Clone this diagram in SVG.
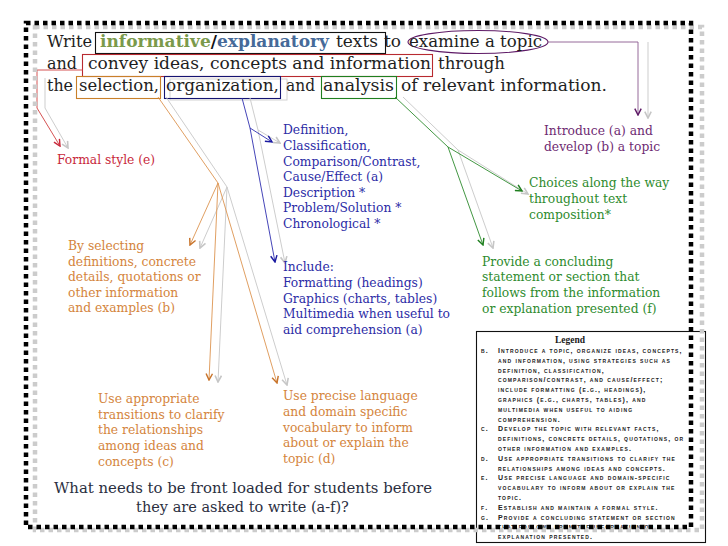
<svg xmlns="http://www.w3.org/2000/svg" width="728" height="546" viewBox="0 0 728 546">
<style>
  .t { font-family: "DejaVu Serif", "Liberation Serif", serif; }
  .title { font-size: 17px; fill: #1e1e1e; }
  .lbl { font-size: 12.3px; }
  .blue { fill: #2c2ca6; }
  .purple { fill: #6e2a72; }
  .green { fill: #2e8b2e; }
  .orange { fill: #d4843c; }
  .red { fill: #c8283a; }
  .q { font-size: 14.5px; fill: #2b2f3f; }
  .leg { font-family: "Liberation Sans", Arial, sans-serif; font-size: 7px; font-weight: bold; font-variant: small-caps; letter-spacing: 1.15px; fill: #222222; }
  .legh { font-family: "Liberation Serif", serif; font-size: 9.5px; font-weight: bold; fill: #1a1a1a; }
  .ln { fill: none; stroke-width: 0.9; }
  .gr { stroke: #cdcdcd; stroke-width: 1; }
</style>
<defs>
  <marker id="a-red" viewBox="0 0 10 10" refX="9" refY="5" markerWidth="8" markerHeight="8" markerUnits="userSpaceOnUse" orient="auto"><path d="M1,1 L9,5 L1,9" fill="none" stroke="#c8283a" stroke-width="1.8"/></marker>
  <marker id="a-or" viewBox="0 0 10 10" refX="9" refY="5" markerWidth="8" markerHeight="8" markerUnits="userSpaceOnUse" orient="auto"><path d="M1,1 L9,5 L1,9" fill="none" stroke="#c8732a" stroke-width="1.8"/></marker>
  <marker id="a-bl" viewBox="0 0 10 10" refX="9" refY="5" markerWidth="8" markerHeight="8" markerUnits="userSpaceOnUse" orient="auto"><path d="M1,1 L9,5 L1,9" fill="none" stroke="#1a1aa0" stroke-width="1.8"/></marker>
  <marker id="a-gn" viewBox="0 0 10 10" refX="9" refY="5" markerWidth="8" markerHeight="8" markerUnits="userSpaceOnUse" orient="auto"><path d="M1,1 L9,5 L1,9" fill="none" stroke="#1f7f1f" stroke-width="1.8"/></marker>
  <marker id="a-pu" viewBox="0 0 10 10" refX="9" refY="5" markerWidth="8" markerHeight="8" markerUnits="userSpaceOnUse" orient="auto"><path d="M1,1 L9,5 L1,9" fill="none" stroke="#5e1a66" stroke-width="1.8"/></marker>
  <marker id="a-gr" viewBox="0 0 10 10" refX="9" refY="5" markerWidth="8" markerHeight="8" markerUnits="userSpaceOnUse" orient="auto"><path d="M1,1 L9,5 L1,9" fill="none" stroke="#c6c6c6" stroke-width="2"/></marker>
</defs>

<rect width="728" height="546" fill="#ffffff"/>

<!-- title -->
<g id="title">
  <rect x="170" y="79" width="117" height="21" fill="none" stroke="#d2d2d2" stroke-width="1"/>
  <rect x="95.5" y="32.5" width="290" height="21" fill="none" stroke="#111" stroke-width="1.1"/>
  <ellipse cx="478" cy="42" rx="70" ry="11.5" fill="none" stroke="#5e1a66" stroke-width="1.1"/>
  <rect x="82.5" y="54.5" width="350" height="22" fill="none" stroke="#b82a30" stroke-width="1.1"/>
  <rect x="76.5" y="76.5" width="84" height="22" fill="none" stroke="#c8802a" stroke-width="1.1"/>
  <rect x="164.5" y="76.5" width="116" height="22" fill="none" stroke="#141472" stroke-width="1.1"/>
  <rect x="321.5" y="76.5" width="75" height="22" fill="none" stroke="#1f7f1f" stroke-width="1.1"/>
  <text class="t title" x="47" y="47" textLength="45" lengthAdjust="spacingAndGlyphs">Write</text>
  <text class="t title" x="100" y="47" textLength="229" lengthAdjust="spacingAndGlyphs" font-weight="bold"><tspan fill="#7b9a4b">informative</tspan><tspan fill="#111111">/</tspan><tspan fill="#466a99">explanatory</tspan></text>
  <text class="t title" x="336" y="47" textLength="42" lengthAdjust="spacingAndGlyphs">texts</text>
  <text class="t title" x="384" y="47" textLength="17" lengthAdjust="spacingAndGlyphs">to</text>
  <text class="t title" x="409" y="47" textLength="133" lengthAdjust="spacingAndGlyphs">examine a topic</text>
  <text class="t title" x="47" y="69" textLength="30" lengthAdjust="spacingAndGlyphs">and</text>
  <text class="t title" x="88" y="69" textLength="343" lengthAdjust="spacingAndGlyphs">convey ideas, concepts and information</text>
  <text class="t title" x="438" y="69" textLength="67" lengthAdjust="spacingAndGlyphs">through</text>
  <text class="t title" x="47" y="91" textLength="26" lengthAdjust="spacingAndGlyphs">the</text>
  <text class="t title" x="79" y="91" textLength="80" lengthAdjust="spacingAndGlyphs">selection,</text>
  <text class="t title" x="166" y="91" textLength="113" lengthAdjust="spacingAndGlyphs">organization,</text>
  <text class="t title" x="286" y="91" textLength="29" lengthAdjust="spacingAndGlyphs">and</text>
  <text class="t title" x="323" y="91" textLength="71" lengthAdjust="spacingAndGlyphs">analysis</text>
  <text class="t title" x="401" y="91" textLength="206" lengthAdjust="spacingAndGlyphs">of relevant information.</text>
</g>

<!-- connectors -->
<g id="connectors">
  <polyline class="ln gr" points="45,78 45,108 68,148" marker-end="url(#a-gr)"/>
  <polyline class="ln" stroke="#d04040" points="83,70 37,70 37,108 60,146" marker-end="url(#a-red)"/>

  <polyline class="ln gr" points="166,97 227,187 200,248" marker-end="url(#a-gr)"/>
  <polyline class="ln gr" points="227,187 218,382" marker-end="url(#a-gr)"/>
  <polyline class="ln gr" points="227,187 287,385" marker-end="url(#a-gr)"/>
  <polyline class="ln" stroke="#dc9450" points="158,97 218,183 190,245" marker-end="url(#a-or)"/>
  <polyline class="ln" stroke="#dc9450" points="218,183 209,380" marker-end="url(#a-or)"/>
  <polyline class="ln" stroke="#dc9450" points="218,183 277,383" marker-end="url(#a-or)"/>

  <polyline class="ln gr" points="250,98 258,130 280,143" marker-end="url(#a-gr)"/>
  <polyline class="ln gr" points="258,130 285,263" marker-end="url(#a-gr)"/>
  <polyline class="ln" stroke="#3030b0" points="242,98 250,128 272,142" marker-end="url(#a-bl)"/>
  <polyline class="ln" stroke="#3030b0" points="250,128 275,262" marker-end="url(#a-bl)"/>

  <polyline class="ln gr" points="403,97 458,150 528,194" marker-end="url(#a-gr)"/>
  <polyline class="ln gr" points="458,150 493,248" marker-end="url(#a-gr)"/>
  <polyline class="ln" stroke="#2e8b2e" points="395,97 448,147 522,191" marker-end="url(#a-gn)"/>
  <polyline class="ln" stroke="#2e8b2e" points="448,147 483,245" marker-end="url(#a-gn)"/>

  <polyline class="ln gr" points="648,42 648,118" marker-end="url(#a-gr)"/>
  <polyline class="ln" stroke="#8a5a8e" points="548,42 638,42 638,115" marker-end="url(#a-pu)"/>
</g>

<g id="formal-style">
  <text class="t lbl red" x="57" y="164">Formal style (e)</text>
</g>

<g id="text-structures">
  <text class="t lbl blue" x="283" y="134">Definition,</text>
  <text class="t lbl blue" x="283" y="150">Classification,</text>
  <text class="t lbl blue" x="283" y="166">Comparison/Contrast,</text>
  <text class="t lbl blue" x="283" y="181">Cause/Effect (a)</text>
  <text class="t lbl blue" x="283" y="197">Description *</text>
  <text class="t lbl blue" x="283" y="212">Problem/Solution *</text>
  <text class="t lbl blue" x="283" y="228">Chronological *</text>
</g>

<g id="include">
  <text class="t lbl blue" x="283" y="271">Include:</text>
  <text class="t lbl blue" x="283" y="287">Formatting (headings)</text>
  <text class="t lbl blue" x="283" y="303">Graphics (charts, tables)</text>
  <text class="t lbl blue" x="283" y="318">Multimedia when useful to</text>
  <text class="t lbl blue" x="283" y="334">aid comprehension (a)</text>
</g>

<g id="introduce">
  <text class="t lbl purple" x="544" y="135">Introduce (a) and</text>
  <text class="t lbl purple" x="544" y="151">develop (b) a topic</text>
</g>

<g id="choices">
  <text class="t lbl green" x="529" y="187">Choices along the way</text>
  <text class="t lbl green" x="529" y="203">throughout text</text>
  <text class="t lbl green" x="529" y="219">composition*</text>
</g>

<g id="concluding">
  <text class="t lbl green" x="482" y="266">Provide a concluding</text>
  <text class="t lbl green" x="482" y="281">statement or section that</text>
  <text class="t lbl green" x="482" y="297">follows from the information</text>
  <text class="t lbl green" x="482" y="313">or explanation presented (f)</text>
</g>

<g id="selecting">
  <text class="t lbl orange" x="68" y="250">By selecting</text>
  <text class="t lbl orange" x="68" y="266">definitions, concrete</text>
  <text class="t lbl orange" x="68" y="281">details, quotations or</text>
  <text class="t lbl orange" x="68" y="297">other information</text>
  <text class="t lbl orange" x="68" y="312">and examples (b)</text>
</g>

<g id="transitions">
  <text class="t lbl orange" x="98" y="403">Use appropriate</text>
  <text class="t lbl orange" x="98" y="419">transitions to clarify</text>
  <text class="t lbl orange" x="98" y="434">the relationships</text>
  <text class="t lbl orange" x="98" y="450">among ideas and</text>
  <text class="t lbl orange" x="98" y="466">concepts (c)</text>
</g>

<g id="precise">
  <text class="t lbl orange" x="283" y="400">Use precise language</text>
  <text class="t lbl orange" x="283" y="416">and domain specific</text>
  <text class="t lbl orange" x="283" y="432">vocabulary to inform</text>
  <text class="t lbl orange" x="283" y="447">about or explain the</text>
  <text class="t lbl orange" x="283" y="463">topic (d)</text>
</g>

<g id="question">
  <text class="t q" x="54" y="493" textLength="378" lengthAdjust="spacingAndGlyphs">What needs to be front loaded for students before</text>
  <text class="t q" x="242.5" y="512" text-anchor="middle">they are asked to write (a-f)?</text>
</g>

<g id="legend">
  <rect x="476.5" y="331.5" width="229" height="211" fill="#ffffff" stroke="#111" stroke-width="1.1"/>
  <text class="legh" x="570" y="343" text-anchor="middle">Legend</text>
  <g class="leg">
    <text x="481" y="353">b.</text>
    <text x="498" y="353">Introduce a topic, organize ideas, concepts,</text>
    <text x="498" y="362.8">and information, using strategies such as</text>
    <text x="498" y="372.6">definition, classification,</text>
    <text x="498" y="382.4">comparison/contrast, and cause/effect;</text>
    <text x="498" y="392.2">include formatting (e.g., headings),</text>
    <text x="498" y="402">graphics (e.g., charts, tables), and</text>
    <text x="498" y="411.8">multimedia when useful to aiding</text>
    <text x="498" y="421.6">comprehension.</text>
    <text x="481" y="431.4">c.</text>
    <text x="498" y="431.4">Develop the topic with relevant facts,</text>
    <text x="498" y="441.2">definitions, concrete details, quotations, or</text>
    <text x="498" y="451">other information and examples.</text>
    <text x="481" y="460.8">d.</text>
    <text x="498" y="460.8">Use appropriate transitions to clarify the</text>
    <text x="498" y="470.6">relationships among ideas and concepts.</text>
    <text x="481" y="480.4">e.</text>
    <text x="498" y="480.4">Use precise language and domain-specific</text>
    <text x="498" y="490.2">vocabulary to inform about or explain the</text>
    <text x="498" y="500">topic.</text>
    <text x="481" y="509.8">f.</text>
    <text x="498" y="509.8">Establish and maintain a formal style.</text>
    <text x="481" y="519.6">g.</text>
    <text x="498" y="519.6">Provide a concluding statement or section</text>
    <text x="498" y="529.4">that follows from the information or</text>
    <text x="498" y="539.2">explanation presented.</text>
  </g>
</g>

<!-- dotted frame -->
<g id="frame" fill="none">
  <rect x="35" y="27" width="667" height="503" stroke="#cccccc" stroke-width="4.5" stroke-dasharray="4.5 4"/>
  <rect x="26" y="23" width="665" height="504" stroke="#000000" stroke-width="4.5" stroke-dasharray="4.5 4"/>
</g>
</svg>
